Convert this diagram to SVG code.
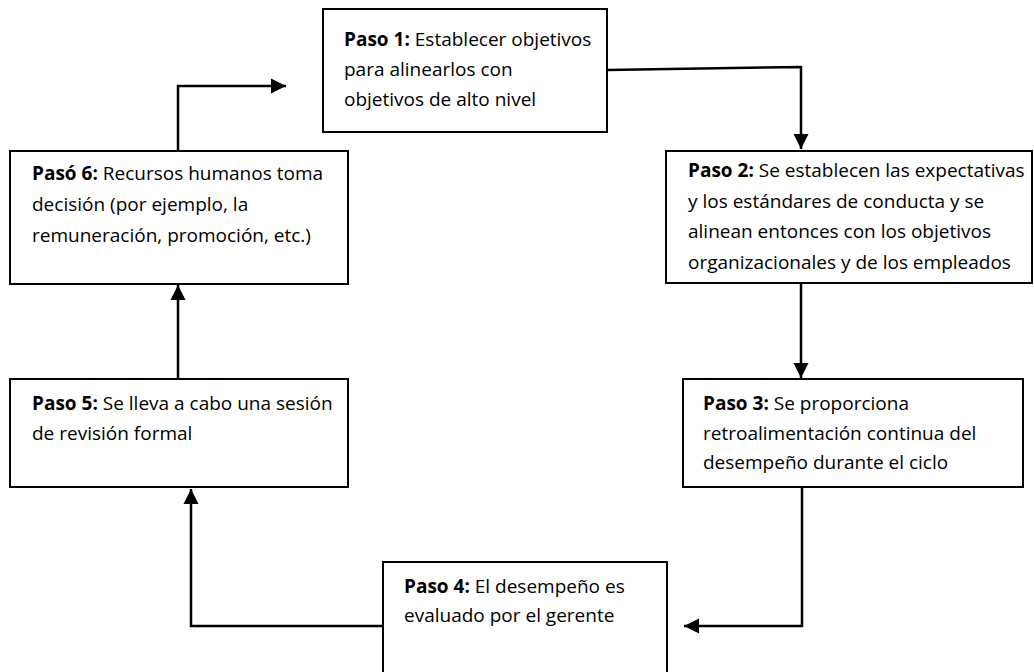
<svg xmlns="http://www.w3.org/2000/svg" width="1034" height="672" viewBox="0 0 1034 672">
<style>
.box{fill:#fff;stroke:#000;stroke-width:2}
.t{font-family:"Open Sans","Noto Sans","Liberation Sans",sans-serif;font-size:19px;fill:#000}
.b{font-weight:bold}
.c{fill:none;stroke:#000;stroke-width:2.5}
</style>
<defs>
<marker id="ah" markerUnits="userSpaceOnUse" markerWidth="16" markerHeight="16" viewBox="0 0 16 16" refX="15" refY="8" orient="auto">
<path d="M0,0.5 L15,8 L0,15.5 Z" fill="#000"/>
</marker>
</defs>
<rect width="1034" height="672" fill="#fff"/>
<g id="connectors">
<polyline class="c" points="178,151 178,86 286,86" marker-end="url(#ah)"/>
<polyline class="c" points="607,70 801,67 801,149" marker-end="url(#ah)"/>
<line class="c" x1="801" y1="284" x2="801" y2="378" marker-end="url(#ah)"/>
<polyline class="c" points="802,487 802,626 684,626" marker-end="url(#ah)"/>
<polyline class="c" points="383,626 191,626 191,489" marker-end="url(#ah)"/>
<line class="c" x1="178" y1="378" x2="178" y2="285" marker-end="url(#ah)"/>
</g>
<g id="step1">
<rect class="box" x="323" y="9" width="284" height="123"/>
<text class="t" x="344" y="46"><tspan class="b">Paso 1:</tspan> Establecer objetivos</text>
<text class="t" x="344" y="76">para alinearlos con</text>
<text class="t" x="344" y="106">objetivos de alto nivel</text>
</g>
<g id="step2">
<rect class="box" x="666" y="151" width="366" height="132"/>
<text class="t" x="688" y="177"><tspan class="b">Paso 2:</tspan> Se establecen las expectativas</text>
<text class="t" x="688" y="207.5">y los estándares de conducta y se</text>
<text class="t" x="688" y="238">alinean entonces con los objetivos</text>
<text class="t" x="688" y="268.5">organizacionales y de los empleados</text>
</g>
<g id="step3">
<rect class="box" x="683" y="379" width="340" height="108"/>
<text class="t" x="703" y="410"><tspan class="b">Paso 3:</tspan> Se proporciona</text>
<text class="t" x="703" y="440">retroalimentación continua del</text>
<text class="t" x="703" y="469">desempeño durante el ciclo</text>
</g>
<g id="step4">
<rect class="box" x="383" y="562" width="284" height="120"/>
<text class="t" x="404" y="593"><tspan class="b">Paso 4:</tspan> El desempeño es</text>
<text class="t" x="404" y="622">evaluado por el gerente</text>
</g>
<g id="step5">
<rect class="box" x="10" y="379" width="338" height="108"/>
<text class="t" x="32" y="410"><tspan class="b">Paso 5:</tspan> Se lleva a cabo una sesión</text>
<text class="t" x="32" y="440">de revisión formal</text>
</g>
<g id="step6">
<rect class="box" x="10" y="151" width="338" height="133"/>
<text class="t" x="32" y="180"><tspan class="b">Pasó 6:</tspan> Recursos humanos toma</text>
<text class="t" x="32" y="211">decisión (por ejemplo, la</text>
<text class="t" x="32" y="242">remuneración, promoción, etc.)</text>
</g>
</svg>
